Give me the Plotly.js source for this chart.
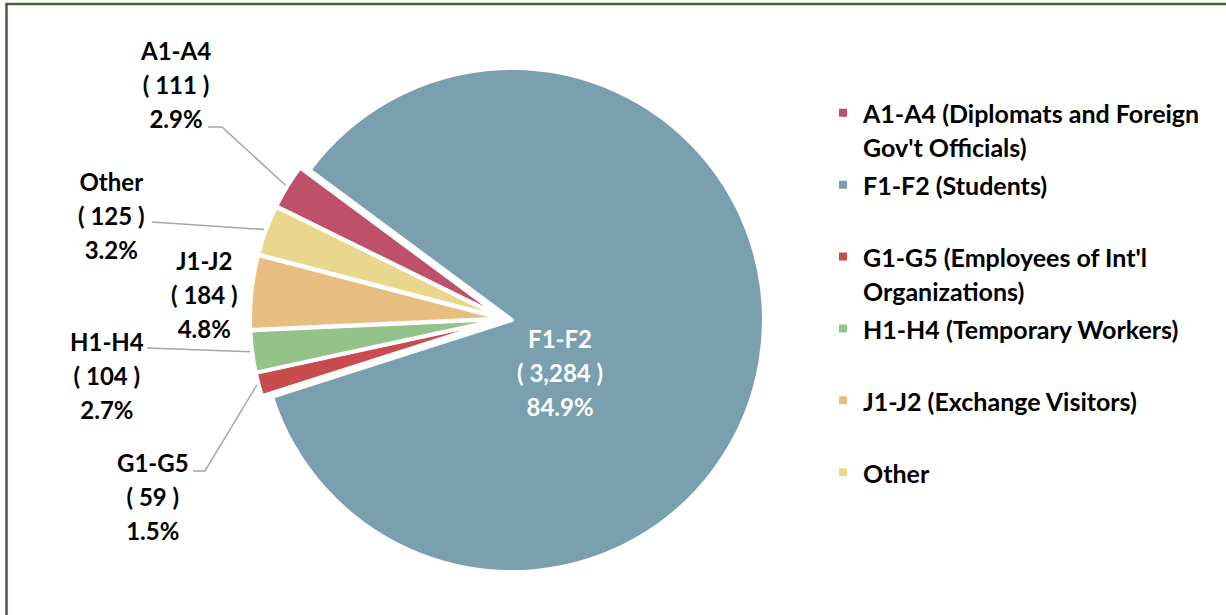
<!DOCTYPE html>
<html><head><meta charset="utf-8">
<script src="https://cdn.plot.ly/plotly-3.0.1.min.js"></script>
<style>html,body{margin:0;padding:0;background:#fff;} #chart{width:1226px;height:615px;}</style>
</head><body><div id="chart"></div>
<script>
// ---- data ----
const categories = ['A1-A4', 'F1-F2', 'G1-G5', 'H1-H4', 'J1-J2', 'Other'];
const legendNames = [
  "A1-A4 (Diplomats and Foreign<br>Gov't Officials)",
  "F1-F2 (Students)",
  "G1-G5 (Employees of Int'l<br>Organizations)",
  "H1-H4 (Temporary Workers)",
  "J1-J2 (Exchange Visitors)",
  "Other"
];
const counts = [111, 3284, 59, 104, 184, 125];
const colors = ['#BE506A', '#7A9FAF', '#C84C4C', '#93C389', '#E7BE80', '#E9D78E'];

// ---- layout constants (pixels) ----
const W = 1226, H = 615;
const CX = 504.5, CY = 318.8, R = 252;
const pulls = [0.01, 0.03, 0.01, 0.01, 0.01, 0.01];
const rotation = -63.8;
const FONT = 'Lato, "Open Sans", sans-serif';
const LABEL_TXT = 24;
const LEGEND_TXT = 25;
// label block centers and leader-line start points
const labelPos = [[175, 85], [560, 372], [153, 496], [107, 375], [205, 294], [111, 215]];
const leaderStart = [[[208, 127], [222, 127]], null, [[193, 471], [205, 471]], [[147, 348]], null, [[152, 222]]];

const total = counts.reduce((a, b) => a + b, 0);
const maxPull = Math.max(...pulls);
const half = R * (1 + maxPull);
const px = x => x / W, py = y => 1 - y / H;
const span = (s, sz) => s.split('<br>').map(p => '<span style="font-size:' + sz + 'px">' + p + '</span>').join('<br>');

const legendLabels = legendNames.map(n => span(n, LEGEND_TXT) + (n.indexOf('<br>') < 0 ? '<br> ' : ''));

const trace = {
  type: 'pie',
  labels: legendLabels,
  values: counts,
  sort: false,
  direction: 'clockwise',
  rotation: rotation,
  pull: pulls,
  textinfo: 'none',
  hoverinfo: 'none',
  marker: {colors: colors, line: {color: '#ffffff', width: 4}},
  domain: {x: [px(CX - half), px(CX + half)], y: [py(CY + half), py(CY - half)]}
};

const annotations = [];
const shapes = [];
let cum = 0;
counts.forEach((v, i) => {
  const mid = (rotation + (cum + v / 2) / total * 360) * Math.PI / 180;
  cum += v;
  const pct = (v / total * 100).toFixed(1) + '%';
  const txt = span(categories[i] + '<br>( ' + v.toLocaleString('en-US') + ' )<br>' + pct, LABEL_TXT);
  annotations.push({
    xref: 'paper', yref: 'paper', x: px(labelPos[i][0]), y: py(labelPos[i][1]),
    xanchor: 'center', yanchor: 'middle', showarrow: false, text: txt, align: 'center',
    font: {family: FONT, size: 26, weight: 'bold', color: i === 1 ? '#ffffff' : '#000000'}
  });
  if (leaderStart[i]) {
    const ox = CX + pulls[i] * R * Math.sin(mid), oy = CY - pulls[i] * R * Math.cos(mid);
    const ex = ox + (R + 2) * Math.sin(mid), ey = oy - (R + 2) * Math.cos(mid);
    const pts = leaderStart[i].concat([[ex, ey]]);
    const d = pts.map((p, k) => (k ? 'L' : 'M') + px(p[0]) + ',' + py(p[1])).join(' ');
    shapes.push({type: 'path', xref: 'paper', yref: 'paper', path: d, line: {color: '#A6A6A6', width: 1.5}});
  }
});
// chart frame
shapes.push({type: 'path', xref: 'paper', yref: 'paper',
  path: 'M' + px(6.5) + ',-0.1 L' + px(6.5) + ',' + py(4) + ' L1.1,' + py(4),
  line: {color: '#43632C', width: 2.5}});

const layout = {
  width: W, height: H,
  margin: {l: 0, r: 0, t: 0, b: 0},
  paper_bgcolor: '#ffffff',
  showlegend: true,
  legend: {
    x: px(823), xanchor: 'left', y: py(89), yanchor: 'top',
    valign: 'top', bgcolor: 'rgba(0,0,0,0)',
    font: {family: FONT, size: 26.5, weight: 'bold', color: '#000000'}
  },
  annotations: annotations,
  shapes: shapes
};

Plotly.newPlot('chart', [trace], layout, {displayModeBar: false, staticPlot: true});
</script>
</body></html>
